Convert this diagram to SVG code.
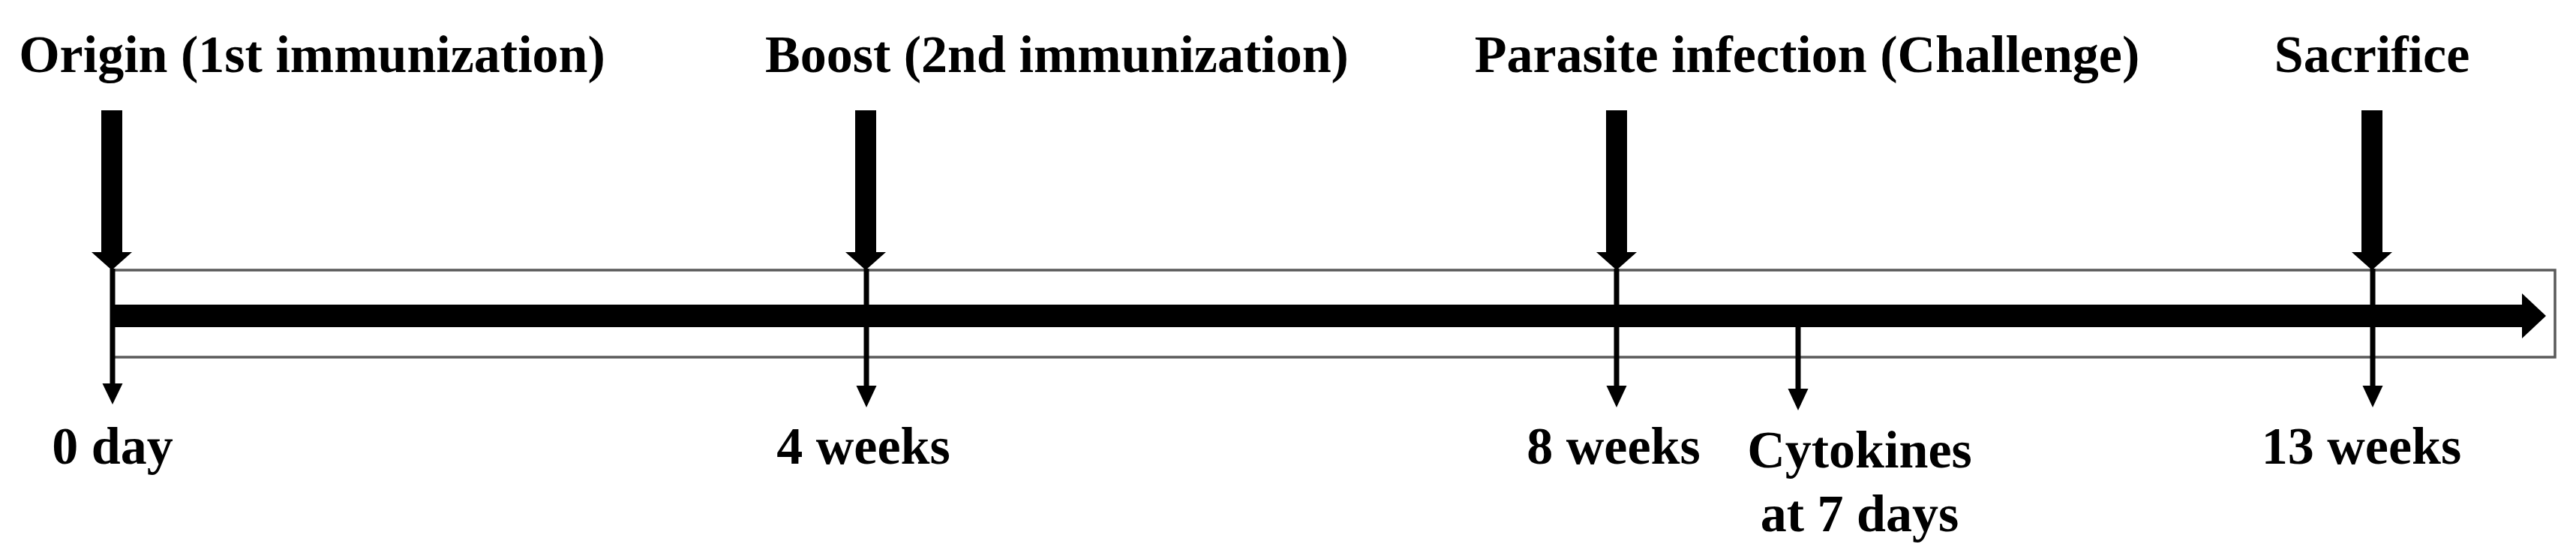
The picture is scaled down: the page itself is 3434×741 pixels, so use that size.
<svg xmlns="http://www.w3.org/2000/svg" width="3434" height="741" viewBox="0 0 3434 741">
<style>
.lbl{font-family:"Liberation Serif","Times New Roman",serif;font-weight:bold;font-size:70px;fill:#000;text-anchor:middle}
.box{fill:none;stroke:#5a5a5a;stroke-width:3.5}
.thin{stroke:#000;stroke-width:7;fill:none}
.head{fill:#000}
</style>
<defs>
<g id="bigArrow">
<rect x="-14" y="147" width="28" height="192" class="head"/>
<polygon points="-27,336 27,336 0,360" class="head"/>
</g>
</defs>
<rect width="3434" height="741" fill="#fff"/>
<g id="timeline">
<rect class="box" x="150" y="360" width="3256" height="116"/>
<rect x="152" y="406" width="3213" height="30" fill="#000"/>
<polygon points="3362,391 3394,421 3362,451" fill="#000"/>
</g>
<g id="connectors">
<use href="#bigArrow" x="149" y="0"/>
<use href="#bigArrow" x="1154" y="0"/>
<use href="#bigArrow" x="2155" y="0"/>
<use href="#bigArrow" x="3162" y="0"/>
<line class="thin" x1="150" y1="358" x2="150" y2="515"/>
<polygon class="head" points="136.5,511 163.5,511 150,539"/>
<line class="thin" x1="1155" y1="358" x2="1155" y2="518"/>
<polygon class="head" points="1141.5,514 1168.5,514 1155,543"/>
<line class="thin" x1="2155" y1="358" x2="2155" y2="518"/>
<polygon class="head" points="2141.5,514 2168.5,514 2155,543"/>
<line class="thin" x1="2397" y1="434" x2="2397" y2="522"/>
<polygon class="head" points="2383.5,518 2410.5,518 2397,547"/>
<line class="thin" x1="3163" y1="358" x2="3163" y2="518"/>
<polygon class="head" points="3149.5,514 3176.5,514 3163,543"/>
</g>
<g id="origin">
<text class="lbl" x="416" y="96">Origin (1st immunization)</text>
<text class="lbl" x="150" y="618">0 day</text>
</g>
<g id="boost">
<text class="lbl" x="1409" y="96">Boost (2nd immunization)</text>
<text class="lbl" x="1151" y="618">4 weeks</text>
</g>
<g id="challenge">
<text class="lbl" x="2409" y="96">Parasite infection (Challenge)</text>
<text class="lbl" x="2151" y="618">8 weeks</text>
</g>
<g id="cytokines">
<text class="lbl" x="2479" y="623">Cytokines</text>
<text class="lbl" x="2479" y="708">at 7 days</text>
</g>
<g id="sacrifice">
<text class="lbl" x="3162" y="96">Sacrifice</text>
<text class="lbl" x="3148" y="618">13 weeks</text>
</g>
</svg>
